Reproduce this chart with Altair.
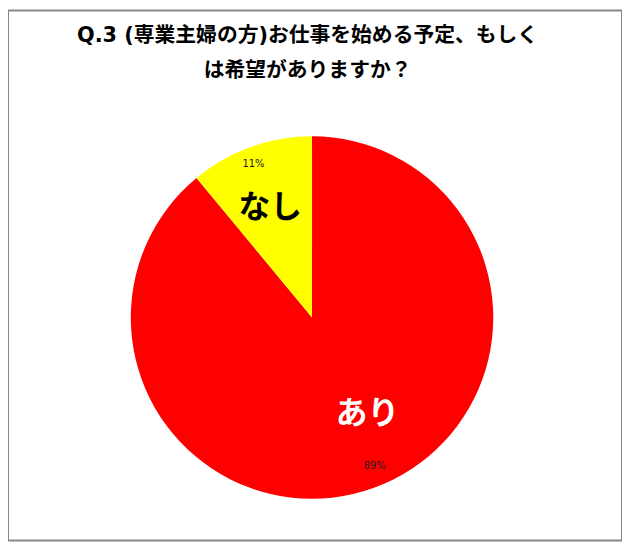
import altair as alt
import pandas as pd

# ---- data ----
labels = ["あり", "なし"]
values = [89, 11]
order_idx = [0, 1]
colors = ["#FF0000", "#FFFF00"]
title_lines = ["Q.3 (専業主婦の方)お仕事を始める予定、もしく", "は希望がありますか？"]

df = pd.DataFrame({"label": labels, "value": values, "idx": order_idx})

JP = "Noto Sans CJK JP"
TITLE_FONT = "DejaVu Sans, Noto Sans CJK JP"
CX, CY = 307, 310

base = alt.Chart(df).transform_calculate(
    pct="datum.value + '%'"
).encode(
    theta=alt.Theta("value:Q", stack=True),
    order=alt.Order("idx:Q"),
    x=alt.value(CX),
    y=alt.value(CY),
)

arcs = base.mark_arc(radius=183).encode(
    color=alt.Color("label:N", scale=alt.Scale(domain=labels, range=colors), legend=None)
)


def label_layer(name, field, radius, size, color, dx, dy, font=JP, weight="bold"):
    return base.mark_text(
        radius=radius, fontSize=size, fontWeight=weight, font=font,
        color=color, dx=dx, dy=dy, align="center", baseline="middle",
    ).encode(
        text=alt.condition(f"datum.label == '{name}'", alt.Text(f"{field}:N"), alt.value(""))
    )


cat_ari = label_layer("あり", "label", 112, 32, "white", 18, -8)
cat_nashi = label_layer("なし", "label", 119, 32, "black", -2, 1)
pct_ari = label_layer("あり", "pct", 163, 10, "#222222", 8, -3, font="DejaVu Sans", weight="normal")
pct_nashi = label_layer("なし", "pct", 166, 10, "#222222", -3, 1, font="DejaVu Sans", weight="normal")

title = alt.Chart(alt.Data(values=[{}])).mark_text(
    text=title_lines, font=TITLE_FONT, fontSize=21, fontWeight="bold", lineHeight=35,
    align="center", baseline="top", color="black",
).encode(x=alt.value(302.5), y=alt.value(15))

chart = alt.layer(arcs, cat_ari, cat_nashi, pct_ari, pct_nashi, title).properties(
    width=620, height=535, padding=0, autosize="none", background="white"
).configure_view(stroke="#888888", strokeWidth=2)

chart.save("out.html", embed_options={"renderer": "svg", "actions": False})
